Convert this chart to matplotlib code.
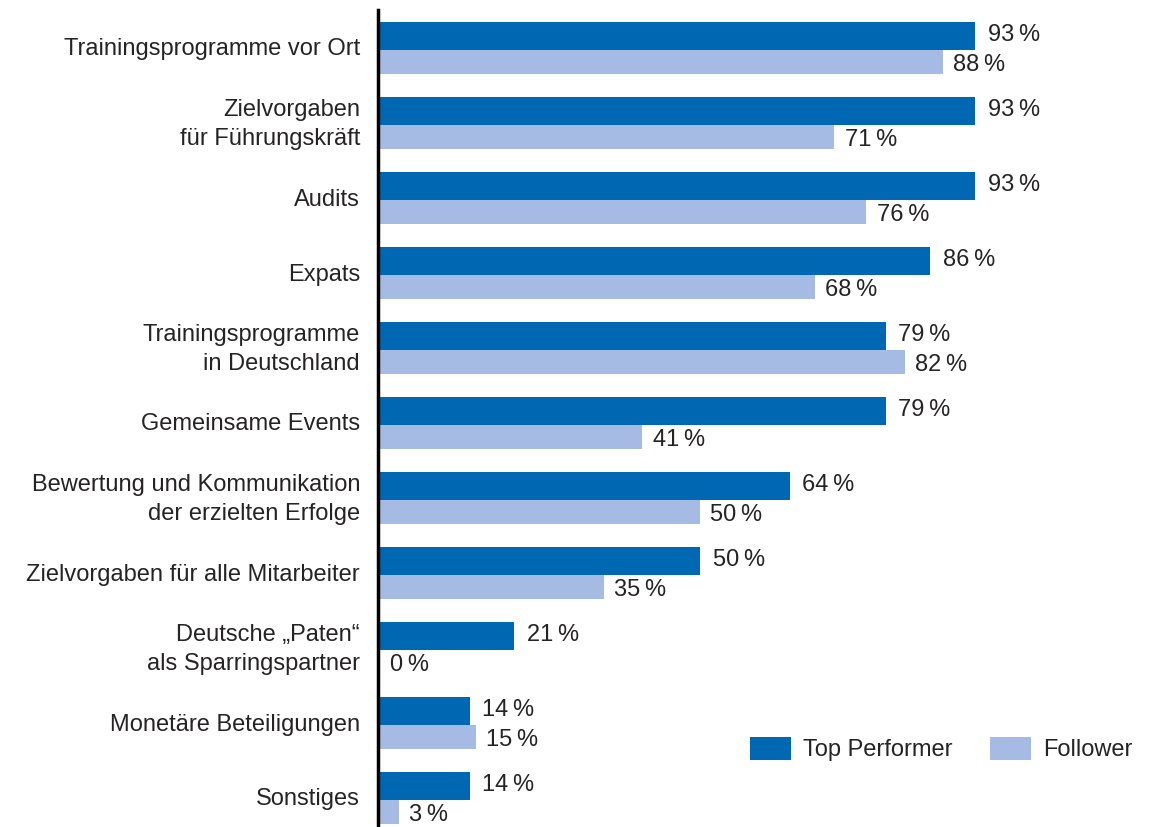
import matplotlib
matplotlib.use("Agg")
import matplotlib.pyplot as plt
from matplotlib.patches import Patch

categories = [
    "Trainingsprogramme vor Ort",
    "Zielvorgaben\nfür Führungskräft",
    "Audits",
    "Expats",
    "Trainingsprogramme\nin Deutschland",
    "Gemeinsame Events",
    "Bewertung und Kommunikation\nder erzielten Erfolge",
    "Zielvorgaben für alle Mitarbeiter",
    "Deutsche „Paten“\nals Sparringspartner",
    "Monetäre Beteiligungen",
    "Sonstiges",
]
top_performer = [93, 93, 93, 86, 79, 79, 64, 50, 21, 14, 14]
follower = [88, 71, 76, 68, 82, 41, 50, 35, 0, 15, 3]
series_names = ["Top Performer", "Follower"]

DARK = "#0068B2"
LIGHT = "#A5BBE3"
TXT = "#262324"
FONT = "Liberation Sans"
FS = 17

W, H = 1154, 827
fig = plt.figure(figsize=(W / 100, H / 100), dpi=100)
ax_left, ax_top, ax_bottom = 378, 10, 827
ax = fig.add_axes([ax_left / W, 1 - ax_bottom / H, (W - ax_left) / W, (ax_bottom - ax_top) / H])

pitch = 75.0
px_per_pct = 6.40
ax.set_xlim(0, (W - ax_left) / px_per_pct)
ax.set_ylim((ax_bottom - ax_top) / pitch, 0)

off0 = 12 / pitch
h_dark = 28 / pitch
h_light = 24 / pitch

for i, (cat, tp, fo) in enumerate(zip(categories, top_performer, follower)):
    y_dark = i + off0 + h_dark / 2
    y_light = i + off0 + h_dark + h_light / 2
    ax.barh(y_dark, tp, height=h_dark, color=DARK, left=0.3, linewidth=0)
    ax.barh(y_light, fo, height=h_light, color=LIGHT, left=0.3, linewidth=0)
    ax.text(tp + 2.3, y_dark - 0.01, f"{tp}\u2009%", va="center", ha="left",
            fontsize=FS, color=TXT, family=FONT)
    ax.text(fo + 1.9, y_light + 0.035, f"{fo}\u2009%", va="center", ha="left",
            fontsize=FS, color=TXT, family=FONT)
    center = i + off0 + (h_dark + h_light) / 2
    ax.text(-2.8, center + 0.02, cat, va="center", ha="right", fontsize=FS,
            color=TXT, family=FONT, linespacing=1.38, clip_on=False)

for s in ["top", "right", "bottom"]:
    ax.spines[s].set_visible(False)
ax.spines["left"].set_linewidth(2.5)
ax.spines["left"].set_color("black")
ax.set_xticks([])
ax.set_yticks([])

handles = [Patch(color=DARK, linewidth=0), Patch(color=LIGHT, linewidth=0)]
fig.legend(handles, series_names, loc="center left",
           bbox_to_anchor=(750 / W, 1 - 749 / H), bbox_transform=fig.transFigure,
           ncol=2, frameon=False, borderpad=0, borderaxespad=0,
           handlelength=1.74, handleheight=1.15, handletextpad=0.5,
           columnspacing=1.6, prop={"family": FONT, "size": FS},
           labelcolor=TXT)

fig.savefig("out.png", dpi=100)
